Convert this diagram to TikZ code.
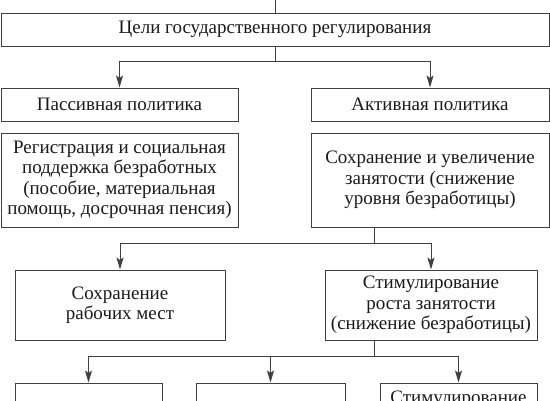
\documentclass[tikz,border=0pt]{standalone}
\usepackage{fontspec}
\setmainfont{Liberation Serif}
\usetikzlibrary{arrows.meta}
\definecolor{linec}{HTML}{404040}
\definecolor{textc}{HTML}{1A1A1A}
\begin{document}
\begin{tikzpicture}[x=1pt,y=-1pt,
  box/.style={draw=linec,line width=1pt,rectangle,inner sep=0pt,align=center,
    text=textc,font=\fontsize{19}{20.5}\selectfont},
  conn/.style={draw=linec,line width=1pt},
  arr/.style={conn,-{Stealth[length=12pt,width=7pt,inset=2.5pt]}}]
\useasboundingbox (0,0) rectangle (550,400);
\clip (0,0) rectangle (550,400);
\node[box,minimum width=548pt,minimum height=33pt] (top) at (275,29.5) {Цели государственного регулирования};
\node[box,minimum width=237pt,minimum height=33pt] (pas) at (119.5,104.5) {Пассивная политика};
\node[box,minimum width=238pt,minimum height=33pt] (act) at (430,104.5) {Активная политика};
\node[box,minimum width=237pt,minimum height=94pt] (reg) at (119.5,180) {Регистрация и социальная\\поддержка безработных\\(пособие, материальная\\помощь, досрочная пенсия)};
\node[box,minimum width=238pt,minimum height=94pt] (sav) at (430,180) {Сохранение и увеличение\\занятости (снижение\\уровня безработицы)};
\node[box,minimum width=210pt,minimum height=70pt] (jobs) at (120,305) {Сохранение\\рабочих мест};
\node[box,minimum width=212pt,minimum height=70pt] (stim) at (431,305) {Стимулирование\\роста занятости\\(снижение безработицы)};
\node[box,minimum width=147pt,minimum height=60pt] (b1) at (88.5,413) {};
\node[box,minimum width=149pt,minimum height=60pt] (b2) at (270.5,413) {};
\node[box,minimum width=157pt,minimum height=60pt] (b3) at (458.5,413) {};
\node[text=textc,font=\fontsize{19}{20.5}\selectfont,anchor=base,inner sep=0pt] (b3t) at (458.5,403) {Стимулирование};
% connectors
\coordinate (in) at (275,0);
\coordinate (j1) at (275,61);
\coordinate (j2) at (374,243);
\coordinate (j3) at (374,356);
\draw[conn] (in) -- (top.north);
\draw[conn] (top.south) -- (j1);
\draw[arr] (j1) -| (pas.north);
\draw[arr] (j1) -| (act.north);
\draw[conn] (sav.south -| j2) -- (j2);
\draw[arr] (j2) -| (jobs.north);
\draw[arr] (j2) -| (stim.north);
\draw[conn] (stim.south -| j3) -- (j3);
\draw[arr] (j3) -| (b1.north);
\draw[arr] (j3) -| (b2.north);
\draw[arr] (j3) -| (b3.north);
\end{tikzpicture}
\end{document}
